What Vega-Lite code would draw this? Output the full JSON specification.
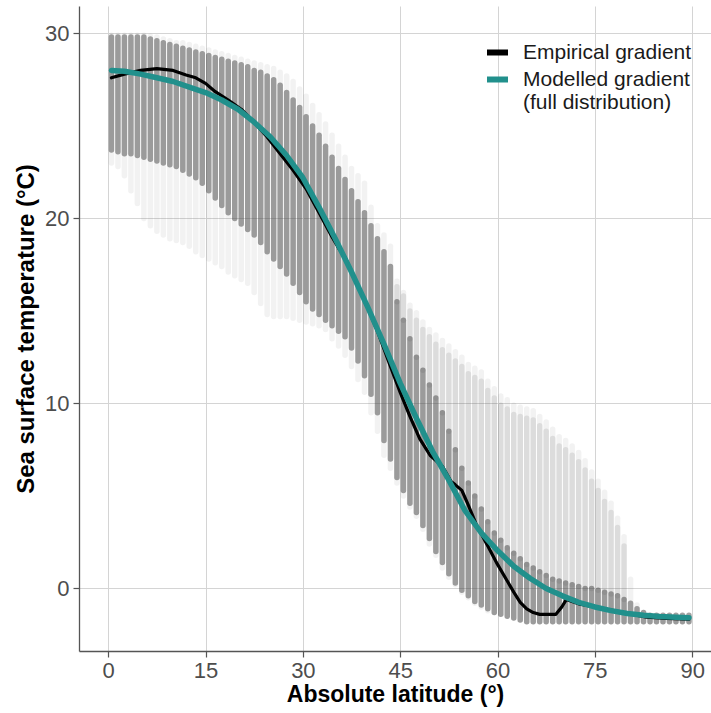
{
"$schema": "https://vega.github.io/schema/vega-lite/v6.json",
"width": 632, "height": 645,
"autosize": {"type": "none"},
"padding": {"left": 79, "top": 6, "right": 0, "bottom": 62},
"background": "white",
"config": {
  "view": {"stroke": null},
  "font": "Liberation Sans",
  "axis": {
    "grid": true, "gridColor": "#d4d4d4", "gridWidth": 1,
    "domainColor": "#555555", "domainWidth": 1.3,
    "tickColor": "#555555", "tickSize": 6, "tickWidth": 1.2,
    "labelFontSize": 22, "labelColor": "#4d4d4d", "labelFont": "Liberation Sans",
    "titleFontSize": 24, "titleFontWeight": "bold", "titleColor": "#000000", "titleFont": "Liberation Sans"
  }
},
"datasets": {
  "cloud": [
    {"lat":0.5,"lo":23.0,"hi":29.9,"dlo":23.7,"dhi":29.8},
    {"lat":1.5,"lo":22.8,"hi":29.9,"dlo":23.6,"dhi":29.8},
    {"lat":2.5,"lo":22.3,"hi":29.9,"dlo":23.5,"dhi":29.8},
    {"lat":3.5,"lo":21.5,"hi":29.9,"dlo":23.5,"dhi":29.8},
    {"lat":4.5,"lo":20.8,"hi":29.9,"dlo":23.4,"dhi":29.8},
    {"lat":5.5,"lo":20.0,"hi":29.9,"dlo":23.3,"dhi":29.8},
    {"lat":6.5,"lo":19.6,"hi":29.85,"dlo":23.2,"dhi":29.7},
    {"lat":7.5,"lo":19.3,"hi":29.8,"dlo":23.1,"dhi":29.6},
    {"lat":8.5,"lo":19.1,"hi":29.7,"dlo":23.0,"dhi":29.5},
    {"lat":9.5,"lo":18.9,"hi":29.6,"dlo":22.9,"dhi":29.4},
    {"lat":10.5,"lo":18.8,"hi":29.5,"dlo":22.8,"dhi":29.3},
    {"lat":11.5,"lo":18.7,"hi":29.5,"dlo":22.6,"dhi":29.2},
    {"lat":12.5,"lo":18.5,"hi":29.4,"dlo":22.4,"dhi":29.1},
    {"lat":13.5,"lo":18.2,"hi":29.3,"dlo":22.2,"dhi":29.0},
    {"lat":14.5,"lo":18.0,"hi":29.2,"dlo":21.9,"dhi":28.9},
    {"lat":15.5,"lo":17.8,"hi":29.1,"dlo":21.5,"dhi":28.8},
    {"lat":16.5,"lo":17.6,"hi":29.0,"dlo":21.1,"dhi":28.7},
    {"lat":17.5,"lo":17.4,"hi":28.9,"dlo":20.7,"dhi":28.6},
    {"lat":18.5,"lo":17.1,"hi":28.8,"dlo":20.3,"dhi":28.5},
    {"lat":19.5,"lo":16.9,"hi":28.7,"dlo":20.0,"dhi":28.4},
    {"lat":20.5,"lo":16.7,"hi":28.6,"dlo":19.7,"dhi":28.3},
    {"lat":21.5,"lo":16.5,"hi":28.5,"dlo":19.4,"dhi":28.2},
    {"lat":22.5,"lo":16.0,"hi":28.4,"dlo":19.1,"dhi":28.0},
    {"lat":23.5,"lo":15.4,"hi":28.3,"dlo":18.7,"dhi":27.9},
    {"lat":24.5,"lo":14.8,"hi":28.2,"dlo":18.2,"dhi":27.7},
    {"lat":25.5,"lo":14.7,"hi":28.1,"dlo":17.8,"dhi":27.5},
    {"lat":26.5,"lo":14.7,"hi":27.9,"dlo":17.4,"dhi":27.2},
    {"lat":27.5,"lo":14.7,"hi":27.7,"dlo":17.0,"dhi":26.8},
    {"lat":28.5,"lo":14.6,"hi":27.4,"dlo":16.5,"dhi":26.4},
    {"lat":29.5,"lo":14.5,"hi":27.0,"dlo":16.0,"dhi":26.0},
    {"lat":30.5,"lo":14.4,"hi":26.6,"dlo":15.5,"dhi":25.5},
    {"lat":31.5,"lo":14.3,"hi":26.1,"dlo":15.1,"dhi":25.0},
    {"lat":32.5,"lo":14.2,"hi":25.6,"dlo":14.8,"dhi":24.5},
    {"lat":33.5,"lo":14.0,"hi":25.1,"dlo":14.5,"dhi":23.9},
    {"lat":34.5,"lo":13.5,"hi":24.5,"dlo":14.2,"dhi":23.3},
    {"lat":35.5,"lo":13.1,"hi":23.9,"dlo":13.9,"dhi":22.7},
    {"lat":36.5,"lo":12.6,"hi":23.3,"dlo":13.6,"dhi":22.1},
    {"lat":37.5,"lo":12.0,"hi":22.7,"dlo":13.0,"dhi":21.5},
    {"lat":38.5,"lo":11.3,"hi":22.3,"dlo":12.3,"dhi":20.9},
    {"lat":39.5,"lo":10.6,"hi":21.9,"dlo":11.5,"dhi":20.3},
    {"lat":40.5,"lo":9.5,"hi":20.6,"dlo":10.5,"dhi":19.6},
    {"lat":41.5,"lo":8.5,"hi":19.6,"dlo":9.5,"dhi":18.9},
    {"lat":42.5,"lo":7.2,"hi":19.1,"dlo":8.0,"dhi":18.2},
    {"lat":43.5,"lo":6.5,"hi":18.5,"dlo":7.0,"dhi":17.4},
    {"lat":44.5,"lo":5.7,"hi":16.6,"dlo":6.0,"dhi":15.5,"mlo":15.5,"mhi":16.3},
    {"lat":45.5,"lo":5.0,"hi":16.0,"dlo":5.3,"dhi":14.5,"mlo":14.5,"mhi":15.8},
    {"lat":46.5,"lo":4.4,"hi":15.3,"dlo":4.6,"dhi":13.5,"mlo":13.5,"mhi":15.0},
    {"lat":47.5,"lo":3.9,"hi":14.9,"dlo":4.1,"dhi":12.5,"mlo":12.5,"mhi":14.5},
    {"lat":48.5,"lo":3.2,"hi":14.4,"dlo":3.4,"dhi":11.8,"mlo":11.8,"mhi":14.0},
    {"lat":49.5,"lo":2.4,"hi":14.0,"dlo":2.7,"dhi":11.0,"mlo":11.0,"mhi":13.6},
    {"lat":50.5,"lo":1.8,"hi":13.7,"dlo":2.0,"dhi":10.3,"mlo":10.3,"mhi":13.2},
    {"lat":51.5,"lo":1.1,"hi":13.4,"dlo":1.4,"dhi":9.5,"mlo":9.5,"mhi":12.9},
    {"lat":52.5,"lo":0.6,"hi":13.1,"dlo":0.8,"dhi":8.5,"mlo":8.5,"mhi":12.6},
    {"lat":53.5,"lo":0.2,"hi":12.8,"dlo":0.3,"dhi":7.5,"mlo":7.5,"mhi":12.3},
    {"lat":54.5,"lo":-0.2,"hi":12.5,"dlo":-0.1,"dhi":6.5,"mlo":6.5,"mhi":12.0},
    {"lat":55.5,"lo":-0.5,"hi":12.1,"dlo":-0.4,"dhi":5.7,"mlo":5.7,"mhi":11.6},
    {"lat":56.5,"lo":-0.8,"hi":11.9,"dlo":-0.7,"dhi":5.0,"mlo":5.0,"mhi":11.4},
    {"lat":57.5,"lo":-1.0,"hi":11.7,"dlo":-0.9,"dhi":4.3,"mlo":4.3,"mhi":11.2},
    {"lat":58.5,"lo":-1.2,"hi":11.2,"dlo":-1.1,"dhi":3.6,"mlo":3.6,"mhi":10.7},
    {"lat":59.5,"lo":-1.3,"hi":10.8,"dlo":-1.3,"dhi":3.0,"mlo":3.0,"mhi":10.3},
    {"lat":60.5,"lo":-1.4,"hi":10.4,"dlo":-1.4,"dhi":2.6,"mlo":2.6,"mhi":9.9},
    {"lat":61.5,"lo":-1.5,"hi":10.2,"dlo":-1.5,"dhi":2.2,"mlo":2.2,"mhi":9.7},
    {"lat":62.5,"lo":-1.6,"hi":9.9,"dlo":-1.6,"dhi":1.9,"mlo":1.9,"mhi":9.4},
    {"lat":63.5,"lo":-1.7,"hi":9.8,"dlo":-1.7,"dhi":1.6,"mlo":1.6,"mhi":9.3},
    {"lat":64.5,"lo":-1.8,"hi":9.7,"dlo":-1.8,"dhi":1.3,"mlo":1.3,"mhi":9.2},
    {"lat":65.5,"lo":-1.8,"hi":9.6,"dlo":-1.8,"dhi":1.1,"mlo":1.1,"mhi":9.1},
    {"lat":66.5,"lo":-1.8,"hi":9.3,"dlo":-1.8,"dhi":0.9,"mlo":0.9,"mhi":8.8},
    {"lat":67.5,"lo":-1.8,"hi":9.0,"dlo":-1.8,"dhi":0.7,"mlo":0.7,"mhi":8.5},
    {"lat":68.5,"lo":-1.8,"hi":8.6,"dlo":-1.8,"dhi":0.5,"mlo":0.5,"mhi":8.1},
    {"lat":69.5,"lo":-1.8,"hi":8.2,"dlo":-1.8,"dhi":0.4,"mlo":0.4,"mhi":7.7},
    {"lat":70.5,"lo":-1.8,"hi":8.0,"dlo":-1.8,"dhi":0.3,"mlo":0.3,"mhi":7.5},
    {"lat":71.5,"lo":-1.8,"hi":7.7,"dlo":-1.8,"dhi":0.2,"mlo":0.2,"mhi":7.2},
    {"lat":72.5,"lo":-1.8,"hi":7.35,"dlo":-1.8,"dhi":0.1,"mlo":0.1,"mhi":6.85},
    {"lat":73.5,"lo":-1.8,"hi":6.9,"dlo":-1.8,"dhi":0.0,"mlo":0.0,"mhi":6.4},
    {"lat":74.5,"lo":-1.8,"hi":6.3,"dlo":-1.8,"dhi":0.0,"mlo":0.0,"mhi":5.8},
    {"lat":75.5,"lo":-1.8,"hi":5.8,"dlo":-1.8,"dhi":-0.1,"mlo":-0.1,"mhi":5.3},
    {"lat":76.5,"lo":-1.8,"hi":5.2,"dlo":-1.8,"dhi":-0.2,"mlo":-0.2,"mhi":4.7},
    {"lat":77.5,"lo":-1.8,"hi":4.6,"dlo":-1.8,"dhi":-0.3,"mlo":-0.3,"mhi":4.1},
    {"lat":78.5,"lo":-1.8,"hi":3.8,"dlo":-1.8,"dhi":-0.4,"mlo":-0.4,"mhi":3.3},
    {"lat":79.5,"lo":-1.8,"hi":2.8,"dlo":-1.8,"dhi":-0.6,"mlo":-0.6,"mhi":2.3},
    {"lat":80.5,"lo":-1.8,"hi":0.5,"dlo":-1.8,"dhi":-0.8},
    {"lat":81.5,"lo":-1.8,"hi":-0.9,"dlo":-1.8,"dhi":-1.1},
    {"lat":82.5,"lo":-1.8,"hi":-1.3,"dlo":-1.8,"dhi":-1.3},
    {"lat":83.5,"lo":-1.8,"hi":-1.6,"dlo":-1.8,"dhi":-1.45},
    {"lat":84.5,"lo":-1.8,"hi":-1.6,"dlo":-1.8,"dhi":-1.45},
    {"lat":85.5,"lo":-1.8,"hi":-1.6,"dlo":-1.8,"dhi":-1.45},
    {"lat":86.5,"lo":-1.8,"hi":-1.6,"dlo":-1.8,"dhi":-1.45},
    {"lat":87.5,"lo":-1.8,"hi":-1.6,"dlo":-1.8,"dhi":-1.45},
    {"lat":88.5,"lo":-1.8,"hi":-1.6,"dlo":-1.8,"dhi":-1.45},
    {"lat":89.5,"lo":-1.8,"hi":-1.6,"dlo":-1.8,"dhi":-1.45}
  ],
  "lines": [
    {"series":"Empirical gradient","lat":0.5,"sst":27.6},
    {"series":"Empirical gradient","lat":2.5,"sst":27.8},
    {"series":"Empirical gradient","lat":5,"sst":28.0},
    {"series":"Empirical gradient","lat":7.5,"sst":28.1},
    {"series":"Empirical gradient","lat":10,"sst":28.0},
    {"series":"Empirical gradient","lat":12,"sst":27.75},
    {"series":"Empirical gradient","lat":13.5,"sst":27.6},
    {"series":"Empirical gradient","lat":15,"sst":27.3},
    {"series":"Empirical gradient","lat":16.5,"sst":26.85},
    {"series":"Empirical gradient","lat":18.5,"sst":26.4},
    {"series":"Empirical gradient","lat":20.5,"sst":25.9},
    {"series":"Empirical gradient","lat":22.5,"sst":25.2},
    {"series":"Empirical gradient","lat":24.5,"sst":24.4},
    {"series":"Empirical gradient","lat":26.5,"sst":23.5},
    {"series":"Empirical gradient","lat":28.5,"sst":22.6},
    {"series":"Empirical gradient","lat":30.5,"sst":21.6},
    {"series":"Empirical gradient","lat":32.5,"sst":20.3},
    {"series":"Empirical gradient","lat":34.5,"sst":19.0},
    {"series":"Empirical gradient","lat":35.5,"sst":18.4},
    {"series":"Empirical gradient","lat":36.5,"sst":17.9},
    {"series":"Empirical gradient","lat":37.5,"sst":17.1},
    {"series":"Empirical gradient","lat":39.5,"sst":15.6},
    {"series":"Empirical gradient","lat":41.5,"sst":13.9},
    {"series":"Empirical gradient","lat":43.5,"sst":12.0},
    {"series":"Empirical gradient","lat":45,"sst":10.6},
    {"series":"Empirical gradient","lat":46.5,"sst":9.3},
    {"series":"Empirical gradient","lat":48,"sst":8.1},
    {"series":"Empirical gradient","lat":49.6,"sst":7.2},
    {"series":"Empirical gradient","lat":51.5,"sst":6.6},
    {"series":"Empirical gradient","lat":52.8,"sst":5.8},
    {"series":"Empirical gradient","lat":53.5,"sst":5.6},
    {"series":"Empirical gradient","lat":54.5,"sst":5.3},
    {"series":"Empirical gradient","lat":55.5,"sst":4.5},
    {"series":"Empirical gradient","lat":56.8,"sst":3.4},
    {"series":"Empirical gradient","lat":58.5,"sst":2.3},
    {"series":"Empirical gradient","lat":60,"sst":1.3},
    {"series":"Empirical gradient","lat":61.5,"sst":0.4},
    {"series":"Empirical gradient","lat":62.5,"sst":-0.2},
    {"series":"Empirical gradient","lat":63.5,"sst":-0.75},
    {"series":"Empirical gradient","lat":64.5,"sst":-1.1},
    {"series":"Empirical gradient","lat":65.5,"sst":-1.3},
    {"series":"Empirical gradient","lat":66.5,"sst":-1.4},
    {"series":"Empirical gradient","lat":69,"sst":-1.4},
    {"series":"Empirical gradient","lat":69.9,"sst":-1.0},
    {"series":"Empirical gradient","lat":70.6,"sst":-0.6},
    {"series":"Empirical gradient","lat":72.7,"sst":-0.85},
    {"series":"Empirical gradient","lat":75,"sst":-1.0},
    {"series":"Empirical gradient","lat":77.9,"sst":-1.2},
    {"series":"Empirical gradient","lat":80,"sst":-1.35},
    {"series":"Empirical gradient","lat":83,"sst":-1.55},
    {"series":"Empirical gradient","lat":86,"sst":-1.62},
    {"series":"Empirical gradient","lat":89.5,"sst":-1.66},
    {"series":"Modelled gradient","lat":0.5,"sst":28.0},
    {"series":"Modelled gradient","lat":2.5,"sst":27.95},
    {"series":"Modelled gradient","lat":5,"sst":27.8},
    {"series":"Modelled gradient","lat":7.5,"sst":27.6},
    {"series":"Modelled gradient","lat":10,"sst":27.4},
    {"series":"Modelled gradient","lat":12.5,"sst":27.1},
    {"series":"Modelled gradient","lat":15,"sst":26.8},
    {"series":"Modelled gradient","lat":17.5,"sst":26.4},
    {"series":"Modelled gradient","lat":20,"sst":25.9},
    {"series":"Modelled gradient","lat":22.5,"sst":25.2},
    {"series":"Modelled gradient","lat":25,"sst":24.4},
    {"series":"Modelled gradient","lat":27.5,"sst":23.4},
    {"series":"Modelled gradient","lat":30,"sst":22.2},
    {"series":"Modelled gradient","lat":32.5,"sst":20.6},
    {"series":"Modelled gradient","lat":35,"sst":18.9},
    {"series":"Modelled gradient","lat":37.5,"sst":17.1},
    {"series":"Modelled gradient","lat":40,"sst":15.2},
    {"series":"Modelled gradient","lat":42.5,"sst":13.2},
    {"series":"Modelled gradient","lat":45,"sst":11.1},
    {"series":"Modelled gradient","lat":47.5,"sst":9.2},
    {"series":"Modelled gradient","lat":50,"sst":7.4},
    {"series":"Modelled gradient","lat":52.5,"sst":5.85},
    {"series":"Modelled gradient","lat":55,"sst":4.2},
    {"series":"Modelled gradient","lat":57.5,"sst":3.0},
    {"series":"Modelled gradient","lat":60,"sst":2.05},
    {"series":"Modelled gradient","lat":62.5,"sst":1.2},
    {"series":"Modelled gradient","lat":65,"sst":0.55},
    {"series":"Modelled gradient","lat":67.5,"sst":0.0},
    {"series":"Modelled gradient","lat":70,"sst":-0.4},
    {"series":"Modelled gradient","lat":72.5,"sst":-0.75},
    {"series":"Modelled gradient","lat":75,"sst":-1.0},
    {"series":"Modelled gradient","lat":77.5,"sst":-1.2},
    {"series":"Modelled gradient","lat":80,"sst":-1.35},
    {"series":"Modelled gradient","lat":82.5,"sst":-1.45},
    {"series":"Modelled gradient","lat":85,"sst":-1.52},
    {"series":"Modelled gradient","lat":87.5,"sst":-1.56},
    {"series":"Modelled gradient","lat":89.5,"sst":-1.58}
  ]
},
"layer": [
  {
    "data": {"name": "cloud"},
    "mark": {"type": "rule", "strokeWidth": 5.5, "strokeCap": "round", "color": "#444444", "opacity": 0.07},
    "encoding": {
      "x": {"field": "lat", "type": "quantitative",
            "scale": {"domain": [-4.5, 92.9], "nice": false, "zero": false},
            "axis": {"values": [0, 15, 30, 45, 60, 75, 90], "title": "Absolute latitude (°)", "labelPadding": 3, "titlePadding": 2, "titleFontSize": 23}},
      "y": {"field": "lo", "type": "quantitative",
            "scale": {"domain": [-3.38, 31.48], "nice": false, "zero": false},
            "axis": {"values": [0, 10, 20, 30], "title": "Sea surface temperature (°C)", "labelPadding": 4, "titlePadding": 6}},
      "y2": {"field": "hi"}
    }
  },
  {
    "data": {"name": "cloud"},
    "transform": [{"filter": "isValid(datum.mlo)"}],
    "mark": {"type": "rule", "strokeWidth": 5.5, "strokeCap": "round", "color": "#444444", "opacity": 0.12},
    "encoding": {
      "x": {"field": "lat", "type": "quantitative"},
      "y": {"field": "mlo", "type": "quantitative"},
      "y2": {"field": "mhi"}
    }
  },
  {
    "data": {"name": "cloud"},
    "mark": {"type": "rule", "strokeWidth": 5.5, "strokeCap": "round", "color": "#444444", "opacity": 0.5},
    "encoding": {
      "x": {"field": "lat", "type": "quantitative"},
      "y": {"field": "dlo", "type": "quantitative"},
      "y2": {"field": "dhi"}
    }
  },
  {
    "data": {"name": "lines"},
    "transform": [{"filter": "datum.series == 'Empirical gradient'"}],
    "mark": {"type": "line", "strokeWidth": 3.2, "strokeCap": "round", "strokeJoin": "round"},
    "encoding": {
      "x": {"field": "lat", "type": "quantitative"},
      "y": {"field": "sst", "type": "quantitative"},
      "color": {"field": "series", "type": "nominal",
        "scale": {"domain": ["Empirical gradient", "Modelled gradient"], "range": ["#000000", "#21908C"]},
        "legend": {"title": null, "orient": "none", "legendX": 405, "legendY": 33, "padding": 0,
          "symbolType": "stroke", "symbolStrokeWidth": 6, "symbolSize": 441,
          "labelFontSize": 21, "labelColor": "#1a1a1a", "labelFont": "Liberation Sans", "labelOffset": 12, "rowPadding": 1, "labelLimit": 400,
          "labelExpr": "datum.value == 'Modelled gradient' ? ['Modelled gradient', '(full distribution)'] : datum.value"}}
    }
  },
  {
    "data": {"name": "lines"},
    "transform": [{"filter": "datum.series == 'Modelled gradient'"}],
    "mark": {"type": "line", "strokeWidth": 5.5, "strokeCap": "round", "strokeJoin": "round"},
    "encoding": {
      "x": {"field": "lat", "type": "quantitative"},
      "y": {"field": "sst", "type": "quantitative"},
      "color": {"field": "series", "type": "nominal"}
    }
  }
]
}
